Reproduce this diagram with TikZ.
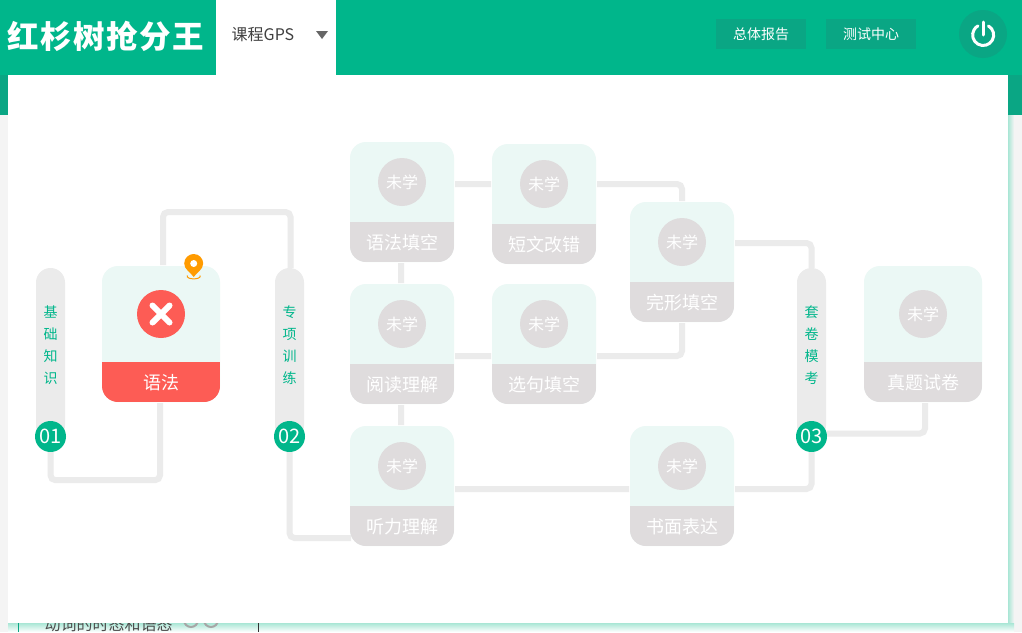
\documentclass[tikz,border=0pt]{standalone}
\usepackage{fontspec}
\setmainfont{Noto Sans CJK SC}
\newfontfamily\titlefont[LetterSpace=5]{Noto Sans CJK SC}
\definecolor{headgreen}{HTML}{00B68B}
\definecolor{headdark}{HTML}{0AA684}
\definecolor{cardmint}{HTML}{EBF8F5}
\definecolor{bandgrey}{HTML}{DFDCDD}
\definecolor{linegrey}{HTML}{EBEBEB}
\definecolor{wrongred}{HTML}{FD5C55}
\definecolor{pinorange}{HTML}{FF9B00}
\definecolor{shadowteal}{HTML}{A9E6D5}
\definecolor{pagegrey}{HTML}{F4F4F4}
\tikzset{
  card/.style={minimum width=104pt,minimum height=120pt,inner sep=0pt,outer sep=1pt,
    rounded corners=16pt,fill=cardmint,
    path picture={\fill[#1,sharp corners] ([yshift=40pt]path picture bounding box.south west)
      rectangle (path picture bounding box.south east);}},
  widecard/.style={card=#1,minimum width=118pt,minimum height=136pt},
  cardtext/.style={text=white,inner sep=0pt,font=\fontsize{18}{22}\selectfont},
  dot/.style={circle,minimum size=48pt,inner sep=0pt,fill=#1,text=white,font=\fontsize{16}{20}\selectfont},
  pill/.style={minimum width=29pt,minimum height=172pt,inner sep=0pt,rounded corners=14.5pt,fill=linegrey},
  pilltext/.style={text=headgreen,inner sep=0pt,align=center,font=\fontsize{14}{22}\selectfont},
  numdot/.style={circle,minimum size=31pt,inner sep=0pt,fill=headgreen,text=white,font=\fontsize{20}{24}\selectfont},
  headbtn/.style={minimum width=90pt,minimum height=30pt,inner sep=0pt,fill=headdark,text=white,font=\fontsize{14}{18}\selectfont},
  conn/.style={draw=linegrey,line width=6pt,rounded corners=5pt},
}
\begin{document}
\begin{tikzpicture}[x=1pt,y=-1pt]
\useasboundingbox (0,0) rectangle (1022,632);

% page behind the dialog
\fill[white] (0,0) rectangle (1022,632);
\fill[pagegrey] (0,115) rectangle (8,632);
\fill[pagegrey] (1008,115) rectangle (1022,632);
\fill[headdark] (0,75) rectangle (8,115);
\fill[headdark] (1008,75) rectangle (1022,115);
\shade[left color=shadowteal,right color=pagegrey] (1008,115) rectangle (1014,632);
\shade[top color=shadowteal,bottom color=white] (8,623) rectangle (1014,632);
\draw[headdark,line width=1pt] (18.5,623) -- (18.5,632);
\draw[black!80,line width=1pt] (258.5,623) -- (258.5,632);
\node[inner sep=0pt,text=black!70,font=\fontsize{16}{20}\selectfont] (behind) at (108.5,624) {动词的时态和语态};
\draw[black!35,line width=2pt] (191,620) circle (7pt) (211,620) circle (7pt);
\fill[white] (8,75) rectangle (1008,623);

% header
\fill[headgreen] (0,0) rectangle (1022,75);
\fill[white] (216,0) rectangle (336,75);
\node[inner sep=0pt,text=white,font=\fontsize{31.5}{36}\titlefont\bfseries] (title) at (105.5,36) {红杉树抢分王};
\node[inner sep=0pt,text=black!75,font=\fontsize{16}{20}\selectfont] (course) at (263,35) {课程GPS};
\fill[black!60] (316,31) -- (328,31) -- (322,39) -- cycle;
\node[headbtn] (report) at (761,34) {总体报告};
\node[headbtn] (center) at (871,34) {测试中心};
\node[circle,minimum size=48pt,inner sep=0pt,fill=headdark] (power) at (983,34) {};
\draw[white,line width=3pt,line cap=round] ([yshift=12pt]power.center) -- ([yshift=-1pt]power.center);
\draw[white,line width=3pt,line cap=round] ([shift={(5.4pt,8.1pt)}]power.center)
  arc[start angle=60,end angle=-240,radius=10.5pt];

% stage bars
\node[pill] (pilla) at (50.5,354) {};
\node[pill] (pillb) at (289.5,354) {};
\node[pill] (pillc) at (811.5,354) {};
\node[pilltext] (pillatext) at (50.5,345) {基\\础\\知\\识};
\node[pilltext] (pillbtext) at (289.5,345) {专\\项\\训\\练};
\node[pilltext] (pillctext) at (811.5,345) {套\\卷\\模\\考};
\node[numdot] (numa) at (50.5,436.5) {01};
\node[numdot] (numb) at (289.5,436.5) {02};
\node[numdot] (numc) at (811.5,436.5) {03};

% cards
\foreach \n/\cx/\cy/\txt in {fill/402/202/语法填空,error/544/204/短文改错,cloze/682/262/完形填空,
    read/402/344/阅读理解,sent/544/344/选句填空,listen/402/486/听力理解,write/682/486/书面表达}{
  \node[card=bandgrey] (\n) at (\cx,\cy) {};
  \node[dot=bandgrey] (\n dot) at ([yshift=20pt]\n.center) {未学};
  \node[cardtext] (\n text) at ([yshift=-41pt]\n.center) {\txt};
}
\node[widecard=bandgrey] (real) at (923,334) {};
\node[dot=bandgrey] (real dot) at (923,314) {未学};
\node[cardtext] (real text) at (923,383) {真题试卷};

\node[widecard=wrongred] (grammar) at (161,334) {};
\node[dot=wrongred] (grammar dot) at (161,314) {};
\node[cardtext] (grammar text) at (161,383) {语法};
\draw[white,line width=6pt,line cap=round]
  ([shift={(-8.5pt,-8.5pt)}]grammar dot.center) -- ([shift={(8.5pt,8.5pt)}]grammar dot.center)
  ([shift={(-8.5pt,8.5pt)}]grammar dot.center) -- ([shift={(8.5pt,-8.5pt)}]grammar dot.center);

% location pin
\coordinate (pin) at (193.7,263.5);
\begin{scope}[shift={(pin)}]
\draw[pinorange,line width=1pt] (-6.5,12) .. controls (-8,16.5) and (8,16.5) .. (6.5,12);
\fill[pinorange] (-9.5,0) arc[start angle=180,end angle=0,radius=9.5pt]
  .. controls (9.5,6) and (3,9) .. (0,13.5) .. controls (-3,9) and (-9.5,6) .. (-9.5,0) -- cycle;
\fill[white] (0,0) circle (3.5pt);
\end{scope}

% connectors
\path [conn]
    (numa.south) -- ++(0,28) -| ([xshift=-1pt]grammar.south)
    ([xshift=2pt]grammar.north) -- ++(0,-53) -| ([xshift=1pt]pillb.north)
    (numb.south) |- ([xshift=2pt,yshift=-52pt]listen.west)
    ([yshift=18pt]fill.east) -- ([yshift=20pt]error.west)
    ([yshift=20pt]error.east) -| (cloze.north)
    ([xshift=-1pt]fill.south) -- ([xshift=-1pt]read.north)
    ([xshift=-1pt]read.south) -- ([xshift=-1pt]listen.north)
    ([yshift=-12pt]read.east) -- ([yshift=-12pt]sent.west)
    ([yshift=-12pt]sent.east) -| (cloze.south)
    ([yshift=-3pt]listen.east) -- ([yshift=-3pt]write.west)
    ([yshift=-3pt]write.east) -| (numc.south)
    ([yshift=19pt]cloze.east) -| (pillc.north)
    ([yshift=3pt]numc.east) -| ([xshift=2pt]real.south)
;

\end{tikzpicture}
\end{document}
